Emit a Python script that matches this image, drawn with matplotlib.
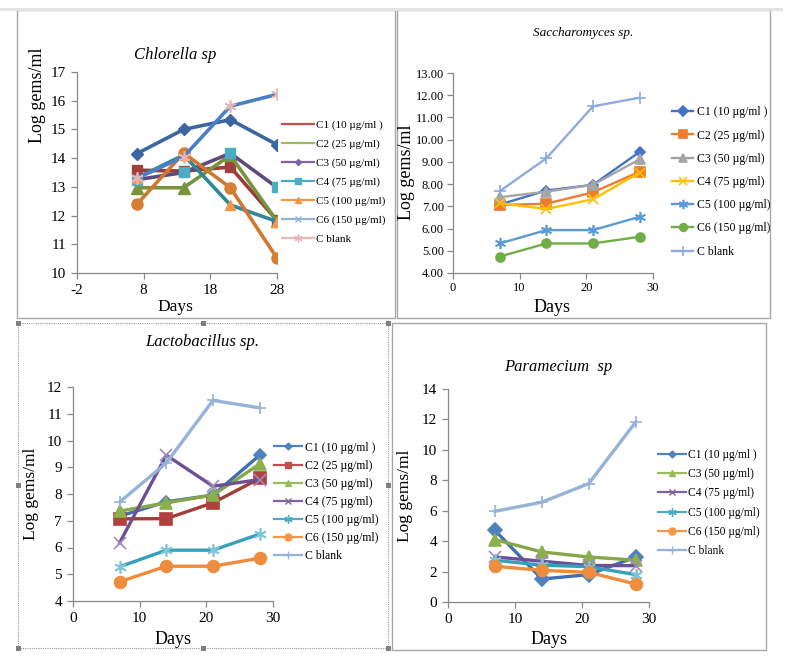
import matplotlib
matplotlib.use('Agg')
import matplotlib.pyplot as plt
from matplotlib.lines import Line2D
from matplotlib.patches import Rectangle
from matplotlib.ticker import FormatStrFormatter

plt.rcParams['font.family'] = ['Liberation Serif', 'DejaVu Serif']
plt.rcParams['axes.unicode_minus'] = False

W, H = 791, 660
fig = plt.figure(figsize=(W / 100, H / 100), dpi=100)

# ---------------- data ----------------
days = [7, 14, 21, 28]

# Chlorella sp (plotted series)
chl_c1 = [14.16, 15.00, 15.34, 14.47]
chl_c2 = [13.58, 13.55, 13.69, 11.83]
chl_c3 = [12.97, 12.97, 14.10, 11.80]
chl_c4 = [13.25, 13.50, 14.17, 12.98]
chl_c5 = [13.31, 14.11, 12.37, 11.79]
chl_c6 = [12.40, 14.18, 12.97, 10.52]
chl_blank = [13.30, 14.05, 15.81, 16.22]

# Saccharomyces sp.
sac_c1 = [7.08, 7.71, 7.97, 9.45]
sac_c2 = [7.06, 7.12, 7.63, 8.56]
sac_c3 = [7.41, 7.66, 7.97, 9.12]
sac_c4 = [7.14, 6.88, 7.32, 8.52]
sac_c5 = [5.33, 5.93, 5.93, 6.53]
sac_c6 = [4.74, 5.33, 5.33, 5.63]
sac_blank = [7.68, 9.16, 11.50, 11.89]

# Lactobacillus sp.
lac_c1 = [7.17, 7.71, 7.96, 9.45]
lac_c2 = [7.07, 7.08, 7.67, 8.58]
lac_c3 = [7.36, 7.67, 7.96, 9.12]
lac_c4 = [6.18, 9.45, 8.29, 8.54]
lac_c5 = [5.28, 5.90, 5.90, 6.50]
lac_c6 = [4.72, 5.30, 5.30, 5.60]
lac_blank = [7.70, 9.16, 11.50, 11.22]

# Paramecium sp
par_c1 = [4.71, 1.51, 1.80, 2.96]
par_c3 = [4.10, 3.29, 2.96, 2.75]
par_c4 = [2.96, 2.68, 2.40, 2.39]
par_c5 = [2.74, 2.42, 2.32, 1.80]
par_c6 = [2.35, 2.08, 1.95, 1.18]
par_blank = [5.96, 6.56, 7.78, 11.82]

labels_full = ['C1 (10 \u00b5g/ml )', 'C2 (25 \u00b5g/ml)', 'C3 (50 \u00b5g/ml)',
               'C4 (75 \u00b5g/ml)', 'C5 (100 \u00b5g/ml)', 'C6 (150 \u00b5g/ml)', 'C blank']
labels_par = ['C1 (10 \u00b5g/ml )', 'C3 (50 \u00b5g/ml)', 'C4 (75 \u00b5g/ml)',
              'C5 (100 \u00b5g/ml)', 'C6 (150 \u00b5g/ml)', 'C blank']

STAR = (6, 2, 0)

# ---------------- helpers ----------------
def ax_at(x0, y0, x1, y1):
    return fig.add_axes([x0 / W, 1 - y1 / H, (x1 - x0) / W, (y1 - y0) / H])

def ftext(x, y, s, **kw):
    fig.text(x / W, 1 - y / H, s, ha='center', va='center', **kw)

def frame(x0, y0, x1, y1, **kw):
    fig.add_artist(Rectangle((x0 / W, 1 - y1 / H), (x1 - x0) / W, (y1 - y0) / H,
                             transform=fig.transFigure, fill=False, **kw))

def hline(x0, x1, y, **kw):
    fig.add_artist(Line2D([x0 / W, x1 / W], [1 - y / H, 1 - y / H],
                          transform=fig.transFigure, **kw))

def style_axes(ax, xlim, xticks, ylim, yticks, fs, spcol='#888888', pad=4):
    ax.set_xlim(*xlim)
    ax.set_ylim(*ylim)
    ax.set_xticks(xticks)
    ax.set_yticks(yticks)
    for s in ['top', 'right']:
        ax.spines[s].set_visible(False)
    for s in ['left', 'bottom']:
        ax.spines[s].set_color(spcol)
        ax.spines[s].set_linewidth(0.9)
    ax.tick_params(direction='out', length=4, width=0.9, color=spcol,
                   labelsize=fs, pad=pad)
    ax.patch.set_alpha(0)
    for sp in ax.spines.values():
        sp.set_zorder(0.5)

def legend_at(ax, handles, labels, x, yc, fs, hl, htp, ls):
    leg = ax.legend(handles, labels, loc='center left',
                    bbox_to_anchor=(x / W, 1 - yc / H), bbox_transform=fig.transFigure,
                    frameon=False, fontsize=fs, handlelength=hl, handletextpad=htp,
                    labelspacing=ls, borderpad=0, borderaxespad=0)
    return leg

# ---------------- borders ----------------
hline(0, 781, 9, color='#E3E3E3', lw=2.2)
frame(17, 10, 395, 318, edgecolor='#A8A8A8', lw=1.0)
frame(397, 10, 770, 318, edgecolor='#A8A8A8', lw=1.0)
frame(18, 323, 388, 648, edgecolor='#9A9A9A', lw=0.8, linestyle=(0, (1, 1)))
for (hx, hy) in [(18, 323), (203, 323), (388, 323), (18, 485), (388, 485),
                 (18, 648), (203, 648), (388, 648)]:
    fig.add_artist(Rectangle(((hx - 2.5) / W, 1 - (hy + 2.5) / H), 5 / W, 5 / H,
                             transform=fig.transFigure, facecolor='#7F7F7F',
                             edgecolor='none'))
frame(392, 323, 766, 650, edgecolor='#A8A8A8', lw=1.0)

# ---------------- Chlorella ----------------
ax1 = ax_at(77, 72, 277, 273)
lw1 = 2.6
ax1.plot(days, chl_c1, color='#3C66A2', lw=lw1, marker='D', ms=6.5, mfc='#3C66A2', mec='#3C66A2')
ax1.plot(days, chl_c2, color='#9C3B38', lw=lw1, marker='s', ms=7.5, mfc='#A0403C', mec='#A0403C')
ax1.plot(days, chl_c3, color='#77933C', lw=lw1, marker='^', ms=8, mfc='#77933C', mec='#77933C')
ax1.plot(days, chl_c4, color='#5F4A7C', lw=lw1, marker='s', ms=7.5, mfc='#4BACC6', mec='#4BACC6')
ax1.plot(days, chl_c5, color='#31869B', lw=lw1, marker='^', ms=7, mfc='#F79646', mec='#F79646')
ax1.plot(days, chl_c6, color='#D0782E', lw=lw1, marker='o', ms=8, mfc='#D77F33', mec='#D77F33')
ax1.plot(days, chl_blank, color='#4A80C4', lw=lw1, marker=STAR, ms=9, mec='#E8B4B4', mew=1.2)
style_axes(ax1, (-2, 28), [-2, 8, 18, 28], (10, 17), range(10, 18), 11)
chl_handles = [
    Line2D([], [], color='#C0504D', lw=1.6),
    Line2D([], [], color='#9BBB59', lw=1.6, marker='_', ms=4, mew=1.5),
    Line2D([], [], color='#8064A2', lw=1.6, marker='D', ms=3),
    Line2D([], [], color='#4BACC6', lw=1.6, marker='s', ms=5),
    Line2D([], [], color='#F79646', lw=1.6, marker='^', ms=5),
    Line2D([], [], color='#95B3D7', lw=1.6, marker='x', ms=5),
    Line2D([], [], color='#E6B9B8', lw=1.6, marker=STAR, ms=6),
]
legend_at(ax1, chl_handles, labels_full, 282, 182, 8, 2.9, 0.2, 0.8)
ftext(175, 55, 'Chlorella sp', fontsize=12, style='italic')
ftext(38, 95, 'Log gems/ml', fontsize=13, rotation=90)
ftext(175, 307, 'Days', fontsize=12.5)

# ---------------- Saccharomyces ----------------
ax2 = ax_at(453, 73, 653, 273)
lw2 = 1.7
sac_specs = [
    (sac_c1, '#4472C4', 'D', 5.5),
    (sac_c2, '#ED7D31', 's', 6.5),
    (sac_c3, '#A5A5A5', '^', 6.5),
    (sac_c4, '#FFC000', 'x', 7),
    (sac_c5, '#5B9BD5', STAR, 8),
    (sac_c6, '#70AD47', 'o', 6.5),
    (sac_blank, '#8FAADC', '+', 8),
]
sac_handles = []
for vals, col, mk, ms in sac_specs:
    ax2.plot(days, vals, color=col, lw=lw2, marker=mk, ms=ms, mfc=col, mec=col, mew=1.2)
    sac_handles.append(Line2D([], [], color=col, lw=lw2, marker=mk, ms=ms * 0.85, mfc=col, mec=col, mew=1.2))
style_axes(ax2, (0, 30), [0, 10, 20, 30], (4, 13), range(4, 14), 9, pad=2.5)
ax2.yaxis.set_major_formatter(FormatStrFormatter('%.2f'))
legend_at(ax2, sac_handles, labels_full, 672, 182, 8.5, 1.8, 0.3, 0.95)
ftext(583, 33, 'Saccharomyces sp.', fontsize=9.5, style='italic')
ftext(407, 172, 'Log gems/ml', fontsize=13, rotation=90)
ftext(552, 308, 'Days', fontsize=13)

# ---------------- Lactobacillus ----------------
ax3 = ax_at(73, 387, 273, 601)
lw3 = 2.4
lac_specs = [
    (lac_c1, '#3F6FB0', '#4F81BD', 'D', 6.5),
    (lac_c2, '#A43C39', '#B2413E', 's', 8),
    (lac_c3, '#86A84A', '#8DB04E', '^', 8.5),
    (lac_c4, '#6E4F96', '#9F8AC0', 'x', 8),
    (lac_c5, '#36A0BA', '#7CC6D8', STAR, 9),
    (lac_c6, '#EE8A3C', '#F08C3E', 'o', 8.5),
    (lac_blank, '#95B3D7', '#95B3D7', '+', 9),
]
for vals, col, mcol, mk, ms in lac_specs:
    ax3.plot(days, vals, color=col, lw=lw3, marker=mk, ms=ms, mfc=mcol, mec=mcol, mew=1.2)
lac_handles = [
    Line2D([], [], color='#4F81BD', lw=1.6, marker='D', ms=3.5),
    Line2D([], [], color='#C0504D', lw=1.6, marker='s', ms=5),
    Line2D([], [], color='#9BBB59', lw=1.6, marker='^', ms=5),
    Line2D([], [], color='#8064A2', lw=1.6, marker='x', ms=5),
    Line2D([], [], color='#4BACC6', lw=1.6, marker=STAR, ms=6),
    Line2D([], [], color='#F79646', lw=1.6, marker='o', ms=5),
    Line2D([], [], color='#95B3D7', lw=1.6, marker='+', ms=6),
]
style_axes(ax3, (0, 30), [0, 10, 20, 30], (4, 12), range(4, 13), 11)
legend_at(ax3, lac_handles, labels_full, 274, 502, 8.5, 2.4, 0.25, 0.52)
ftext(202, 342, 'Lactobacillus sp.', fontsize=12, style='italic')
ftext(31, 494, 'Log gems/ml', fontsize=12.5, rotation=90)
ftext(173, 640, 'Days', fontsize=13)

# ---------------- Paramecium ----------------
ax4 = ax_at(448, 389, 649, 602)
lw4 = 2.4
par_specs = [
    (par_c1, '#3F6FB0', '#4F81BD', 'D', 7),
    (par_c3, '#86A84A', '#8DB04E', '^', 8.5),
    (par_c4, '#6E4F96', '#9F8AC0', 'x', 8),
    (par_c5, '#36A0BA', '#7CC6D8', STAR, 9),
    (par_c6, '#EE8A3C', '#F08C3E', 'o', 8.5),
    (par_blank, '#95B3D7', '#95B3D7', '+', 9),
]
for vals, col, mcol, mk, ms in par_specs:
    ax4.plot(days, vals, color=col, lw=lw4, marker=mk, ms=ms, mfc=mcol, mec=mcol, mew=1.2)
par_handles = [
    Line2D([], [], color='#4F81BD', lw=1.6, marker='D', ms=3.5),
    Line2D([], [], color='#9BBB59', lw=1.6, marker='^', ms=5),
    Line2D([], [], color='#8064A2', lw=1.6, marker='x', ms=5),
    Line2D([], [], color='#4BACC6', lw=1.6, marker=STAR, ms=6),
    Line2D([], [], color='#F79646', lw=1.6, marker='o', ms=5),
    Line2D([], [], color='#95B3D7', lw=1.6, marker='+', ms=6),
]
style_axes(ax4, (0, 30), [0, 10, 20, 30], (0, 14), range(0, 15, 2), 11)
legend_at(ax4, par_handles, labels_par, 658, 503, 8.3, 2.4, 0.2, 0.62)
ftext(558, 367, 'Paramecium  sp', fontsize=12, style='italic')
ftext(405, 496, 'Log gems/ml', fontsize=12.5, rotation=90)
ftext(549, 640, 'Days', fontsize=13)

fig.savefig('out.png', dpi=100)
